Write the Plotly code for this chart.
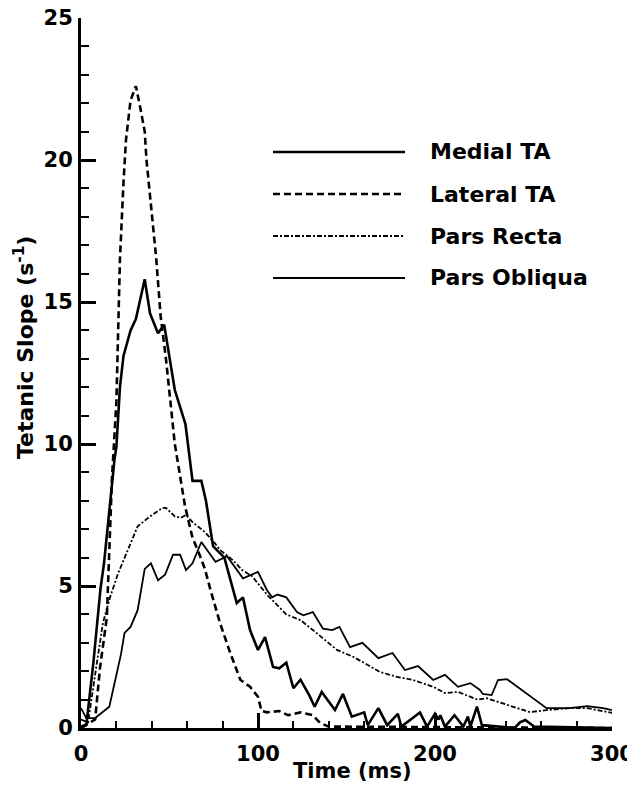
import plotly.graph_objects as go

# ---------------- data ----------------
series_names = ["Medial TA", "Lateral TA", "Pars Recta", "Pars Obliqua"]

medial_t = [0, 3, 7, 11, 13, 15, 19, 20, 22, 24, 28, 31, 36, 39, 43.5, 47, 53, 59, 63, 68,
            70.6, 74.6, 81, 88, 91.5, 95.5, 100, 104, 108.5, 112, 116, 120, 124, 129, 132, 136,
            143.5, 148, 153, 160, 162, 168, 173, 179, 181, 191.5, 195.5, 200, 202, 203, 205.6,
            211, 216, 218.6, 220, 223.7, 226.5, 245, 248, 251, 256, 300]
medial_v = [0.0, 0.1, 2.3, 4.9, 5.8, 7.1, 9.5, 9.9, 12.0, 13.1, 14.0, 14.4, 15.8, 14.6, 13.9, 14.2,
            11.9, 10.7, 8.7, 8.7, 8.0, 6.4, 6.0, 4.4, 4.6, 3.45, 2.75, 3.2, 2.15, 2.1, 2.3, 1.4,
            1.7, 1.15, 0.75, 1.27, 0.63, 1.2, 0.4, 0.55, 0.1, 0.7, 0.1, 0.5, 0.05, 0.55, 0.05,
            0.5, 0.3, 0.45, 0.05, 0.45, 0.05, 0.4, 0.05, 0.75, 0.1, 0.0, 0.2, 0.28, 0.05, 0.0]

lateral_t = [0, 4, 8, 10.7, 14.6, 17.5, 20, 22, 24, 25.4, 28, 31, 33, 36, 37, 39, 40.7, 42.4,
             45, 48, 51, 53, 58.8, 63, 67, 70, 73, 78.5, 84, 90, 95.5, 100, 102, 105, 112, 117,
             124, 131, 135, 140, 300]
lateral_v = [0.05, 0.15, 0.3, 2.1, 3.9, 8.8, 11.5, 16.5, 19.2, 20.7, 22.1, 22.6, 22.0, 21.0,
             20.0, 18.8, 17.6, 16.6, 14.5, 13.0, 11.2, 10.0, 7.8, 6.7, 6.1, 5.6, 4.9, 3.7, 2.7,
             1.7, 1.45, 1.1, 0.6, 0.55, 0.6, 0.45, 0.55, 0.45, 0.18, 0.05, 0.0]

recta_t = [0, 4, 8.5, 12.4, 16.4, 21, 26, 32, 39, 46, 48, 53, 56.5, 59.3, 63, 70, 75.7, 78.5, 86,
           91, 96.6, 105, 116, 124, 132, 144.6, 154, 161.6, 169, 178.5, 187.6, 199, 205.6, 213,
           224, 229, 238, 253.6, 263, 276, 286, 300]
recta_v = [0.3, 0.2, 2.1, 3.7, 4.6, 5.45, 6.2, 7.1, 7.45, 7.75, 7.75, 7.45, 7.4, 7.5, 7.25, 6.9,
           6.5, 6.27, 5.9, 5.56, 5.35, 4.7, 4.0, 3.8, 3.4, 2.75, 2.5, 2.22, 1.97, 1.8, 1.69, 1.45,
           1.23, 1.27, 1.0, 1.05, 0.88, 0.56, 0.63, 0.7, 0.7, 0.53]

obliqua_t = [0, 3, 8, 16, 22.6, 24.6, 28, 32, 36, 39.5, 43.5, 47.5, 52, 56, 59.3, 63, 68, 73, 76,
             82.5, 91.5, 100, 105, 108, 111, 116, 122, 125.6, 131, 136.7, 142, 146, 152, 159,
             168, 176, 183, 190.4, 199, 205.6, 213, 220, 225.4, 227, 232, 235.6, 240.7, 263,
             276, 286, 295, 300]
obliqua_v = [0.7, 0.35, 0.35, 0.75, 2.6, 3.35, 3.56, 4.15, 5.6, 5.8, 5.2, 5.4, 6.1, 6.1, 5.56,
             5.8, 6.55, 6.1, 5.85, 6.05, 5.27, 5.5, 4.86, 4.6, 4.7, 4.6, 4.08, 3.97, 4.08, 3.5,
             3.45, 3.56, 2.85, 3.0, 2.46, 2.64, 2.04, 2.18, 1.69, 1.87, 1.45, 1.58, 1.34, 1.2,
             1.16, 1.69, 1.72, 0.7, 0.7, 0.77, 0.7, 0.63]

x_tick_vals = [0, 100, 200, 300]
y_tick_vals = [0, 5, 10, 15, 20, 25]
x_title = "Time (ms)"
y_title = "Tetanic Slope (s<sup>-1</sup>)"

# ---------------- styles ----------------
styles = [
    dict(width=2.6, dash="solid"),
    dict(width=2.6, dash="7px,4px"),
    dict(width=1.8, dash="5px,2px,2px,2px"),
    dict(width=1.8, dash="solid"),
]
xs = [medial_t, lateral_t, recta_t, obliqua_t]
ys = [medial_v, lateral_v, recta_v, obliqua_v]

FONT = "DejaVu Sans"
fig = go.Figure()
for name, x, y, st in zip(series_names, xs, ys, styles):
    fig.add_trace(go.Scatter(x=x, y=y, mode="lines", name=name, showlegend=False,
                             line=dict(color="black", width=st["width"], dash=st["dash"])))

# page-pixel layout (page has an 8px body margin, compensated in margins below)
plot_l, plot_r, plot_t, plot_b = 81, 612, 18, 728
def px2paper_x(px):
    return (px - plot_l) / (plot_r - plot_l)
def px2paper_y(py):
    return (plot_b - py) / (plot_b - plot_t)

# hand-drawn legend like the original figure
leg_y_px = [152, 194, 236, 278]
for name, st, py in zip(series_names, styles, leg_y_px):
    yy = px2paper_y(py)
    fig.add_shape(type="line", xref="paper", yref="paper",
                  x0=px2paper_x(273), x1=px2paper_x(405), y0=yy, y1=yy,
                  line=dict(color="black", width=st["width"], dash=st["dash"]))
    fig.add_annotation(xref="paper", yref="paper", x=px2paper_x(428), y=yy,
                       xanchor="left", yanchor="middle", text=name, showarrow=False,
                       font=dict(family=FONT, size=22, color="black", weight="bold"))

# axis titles
fig.add_annotation(xref="paper", yref="paper", x=px2paper_x(352), y=px2paper_y(771),
                   xanchor="center", yanchor="middle", text=x_title, showarrow=False,
                   font=dict(family=FONT, size=21, color="black", weight="bold"))
fig.add_annotation(xref="paper", yref="paper", x=px2paper_x(24), y=px2paper_y(348),
                   xanchor="center", yanchor="middle", text=y_title, showarrow=False,
                   textangle=-90,
                   font=dict(family=FONT, size=22, color="black", weight="bold"))

axis_common = dict(
    showline=True, linecolor="black", linewidth=3, mirror=False,
    showgrid=False, zeroline=False,
    ticks="inside", ticklen=15, tickwidth=2.5, tickcolor="black",
    ticklabeloverflow="allow",
    tickfont=dict(family=FONT, size=21, color="black", weight="bold"),
)

fig.update_xaxes(range=[0, 300], tickvals=x_tick_vals, ticklabelstandoff=5,
                 minor=dict(ticks="inside", dtick=20, tick0=0, ticklen=7, tickwidth=2,
                            tickcolor="black"),
                 **axis_common)
fig.update_yaxes(range=[0, 25], tickvals=y_tick_vals, ticklabelstandoff=1,
                 minor=dict(ticks="inside", dtick=1, tick0=0, ticklen=8, tickwidth=2,
                            tickcolor="black"),
                 **axis_common)

fig.update_layout(width=627, height=789, plot_bgcolor="white", paper_bgcolor="white",
                  margin=dict(l=73, r=23, t=10, b=69, autoexpand=False),
                  showlegend=False)
fig.write_html("out.html")
